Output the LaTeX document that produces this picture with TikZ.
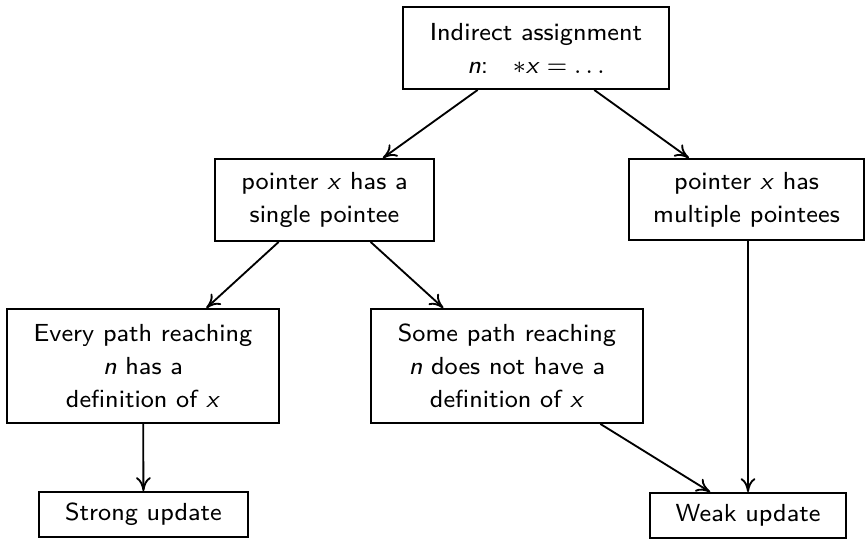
\documentclass[tikz,border=0pt]{standalone}
\usepackage{fix-cm}
\usetikzlibrary{arrows.meta}
\def\pxunit{0.324pt}
\begin{document}
\begin{tikzpicture}[x=\pxunit,y=-\pxunit,
  box/.style={draw,line width=0.6pt,align=center,inner sep=0pt,
    font=\sffamily\fontsize{8}{10.7}\selectfont},
  flow/.style={line width=0.6pt,-{To[length=4.5pt,width=4.8pt]}}]
\useasboundingbox (0,0) rectangle (867,543);

\node[box,minimum width=266*\pxunit,minimum height=82*\pxunit] (assign) at (536,48)
  {Indirect assignment\\ \textit{n}:\quad$\ast$\textit{x}\;$=$\;$\ldots$};
\node[box,minimum width=219*\pxunit,minimum height=82*\pxunit] (single) at (324.5,200)
  {pointer \textit{x} has a\\ single pointee};
\node[box,minimum width=235*\pxunit,minimum height=81*\pxunit] (multi) at (746.5,199.5)
  {pointer \textit{x} has\\ multiple pointees};
\node[box,minimum width=272*\pxunit,minimum height=114*\pxunit] (every) at (143,366)
  {Every path reaching\\ \textit{n} has a\\ definition of \textit{x}};
\node[box,minimum width=272*\pxunit,minimum height=114*\pxunit] (some) at (507,366)
  {Some path reaching\\ \textit{n} does not have a\\ definition of \textit{x}};
\node[box,minimum width=209*\pxunit,minimum height=45*\pxunit] (strong) at (143.5,514.5)
  {Strong update};
\node[box,minimum width=196*\pxunit,minimum height=45*\pxunit] (weak) at (748,515.5)
  {Weak update};

\draw[flow] (assign) -- (single);
\draw[flow] (assign) -- (multi);
\draw[flow] (single) -- (every);
\draw[flow] (single) -- (some);
\draw[flow] (every) -- (strong);
\draw[flow] (some) -- (weak);
\draw[flow] (multi.south -| weak.north) -- (weak.north);
\end{tikzpicture}
\end{document}
